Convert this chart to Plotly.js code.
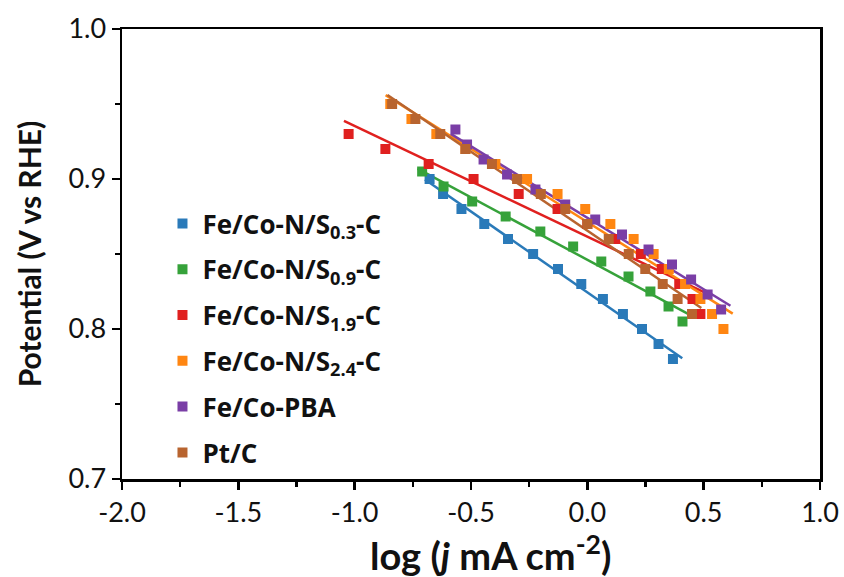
<!DOCTYPE html>
<html><head><meta charset="utf-8">
<script src="https://cdn.plot.ly/plotly-3.0.1.min.js"></script>
<style>html,body{margin:0;padding:0;background:#fff}#chart{width:844px;height:577px}</style>
</head><body><div id="chart"></div>
<script>
// Series names
const names = ["Fe/Co-N/S<sub>0.3</sub>-C","Fe/Co-N/S<sub>0.9</sub>-C","Fe/Co-N/S<sub>1.9</sub>-C","Fe/Co-N/S<sub>2.4</sub>-C","Fe/Co-PBA","Pt/C"];
const colors = ["#2a7ab9","#36a23a","#e0201f","#ff8612","#7a3ea6","#b8642f"];
const xTitle = 'log (<i>j</i> mA cm<sup>-2</sup>)';
const yTitle = 'Potential (V vs RHE)';

// Tick labels
const xTickVals = [-2.0,-1.5,-1.0,-0.5,0.0,0.5,1.0];
const xTickText = ["-2.0","-1.5","-1.0","-0.5","0.0","0.5","1.0"];
const yTickVals = [0.7,0.8,0.9,1.0];
const yTickText = ["0.7","0.8","0.9","1.0"];

// Fe/Co-N/S0.3-C
const s03_x = [-0.678,-0.620,-0.541,-0.443,-0.341,-0.233,-0.126,-0.026,0.067,0.153,0.235,0.306,0.368];
const s03_y = [0.90,0.89,0.88,0.87,0.86,0.85,0.84,0.83,0.82,0.81,0.80,0.79,0.78];
// Fe/Co-N/S0.9-C
const s09_x = [-0.710,-0.618,-0.495,-0.351,-0.202,-0.061,0.060,0.177,0.271,0.349,0.409];
const s09_y = [0.905,0.895,0.885,0.875,0.865,0.855,0.845,0.835,0.825,0.815,0.805];
// Fe/Co-N/S1.9-C
const s19_x = [-1.026,-0.868,-0.682,-0.489,-0.295,-0.128,0.000,0.120,0.230,0.320,0.395,0.452,0.486];
const s19_y = [0.93,0.92,0.91,0.90,0.89,0.88,0.87,0.86,0.85,0.84,0.83,0.82,0.81];
// Fe/Co-N/S2.4-C
const s24_x = [-0.847,-0.756,-0.649,-0.524,-0.395,-0.259,-0.128,-0.009,0.099,0.199,0.285,0.350,0.420,0.486,0.536,0.585];
const s24_y = [0.95,0.94,0.93,0.92,0.91,0.90,0.89,0.88,0.87,0.86,0.85,0.84,0.83,0.82,0.81,0.80];
// Fe/Co-PBA
const pba_x = [-0.567,-0.517,-0.446,-0.345,-0.223,-0.095,0.034,0.149,0.263,0.364,0.446,0.517,0.575];
const pba_y = [0.933,0.923,0.913,0.903,0.893,0.883,0.873,0.863,0.853,0.843,0.833,0.823,0.813];
// Pt/C
const ptc_x = [-0.839,-0.739,-0.632,-0.524,-0.410,-0.302,-0.200,-0.095,0.000,0.092,0.178,0.249,0.324,0.388,0.450];
const ptc_y = [0.95,0.94,0.93,0.92,0.91,0.90,0.89,0.88,0.87,0.86,0.85,0.84,0.83,0.82,0.81];

const xs = [s03_x,s09_x,s19_x,s24_x,pba_x,ptc_x];
const ys = [s03_y,s09_y,s19_y,s24_y,pba_y,ptc_y];

function fit(x,y){
  const n=x.length; let sx=0,sy=0,sxx=0,sxy=0;
  for(let i=0;i<n;i++){sx+=x[i];sy+=y[i];sxx+=x[i]*x[i];sxy+=x[i]*y[i];}
  const m=(n*sxy-sx*sy)/(n*sxx-sx*sx); const b=(sy-m*sx)/n;
  const x0=Math.min(...x)-0.02, x1=Math.max(...x)+0.04;
  return {x:[x0,x1], y:[m*x0+b, m*x1+b]};
}

const traces=[];
for(let i=0;i<6;i++){
  const f=fit(xs[i],ys[i]);
  traces.push({x:f.x,y:f.y,mode:'lines',line:{color:colors[i],width:2.5},showlegend:false,hoverinfo:'skip'});
}
for(let i=0;i<6;i++){
  traces.push({x:xs[i],y:ys[i],mode:'markers',name:names[i],legendgroup:'g'+i,
    marker:{symbol:'square',size:10,color:colors[i]}});
}

const tickFont={family:'Lato, "Open Sans", sans-serif',size:27,color:'#111'};
const layout={
  width:844,height:577,
  margin:{l:122,r:24,t:29,b:98},
  paper_bgcolor:'#fff',plot_bgcolor:'#fff',
  showlegend:true,
  legend:{x:0.058,y:0.62,xanchor:'left',yanchor:'top',bgcolor:'rgba(0,0,0,0)',
    font:{family:'"Open Sans", sans-serif',size:26,color:'#111',weight:'bold'},
    tracegroupgap:9,itemwidth:30},
  xaxis:{range:[-2,1],tickvals:xTickVals,ticktext:xTickText,showgrid:false,zeroline:false,
    showline:true,linecolor:'#000',linewidth:2.5,mirror:true,
    ticks:'outside',ticklen:8,tickwidth:2.5,tickcolor:'#000',tickfont:tickFont,
    minor:{dtick:0.25,tick0:-2,ticks:'outside',ticklen:5,tickwidth:2.5,tickcolor:'#000',showgrid:false}},
  yaxis:{range:[0.7,1.0],tickvals:yTickVals,ticktext:yTickText,showgrid:false,zeroline:false,
    showline:true,linecolor:'#000',linewidth:2.5,mirror:true,
    ticks:'outside',ticklen:8,tickwidth:2.5,tickcolor:'#000',tickfont:tickFont,
    minor:{dtick:0.05,tick0:0.7,ticks:'outside',ticklen:5,tickwidth:2.5,tickcolor:'#000',showgrid:false},
    title:{text:yTitle,font:{family:'Lato, "Open Sans", sans-serif',size:30,color:'#111',weight:'bold'},standoff:18}},
  annotations:[{text:xTitle,xref:'paper',yref:'paper',x:0.529,y:-0.165,xanchor:'center',yanchor:'middle',
    showarrow:false,font:{family:'Lato, "Open Sans", sans-serif',size:38,color:'#111',weight:'bold'}}]
};
Plotly.newPlot('chart',traces,layout,{displayModeBar:false,staticPlot:true});
</script></body></html>
